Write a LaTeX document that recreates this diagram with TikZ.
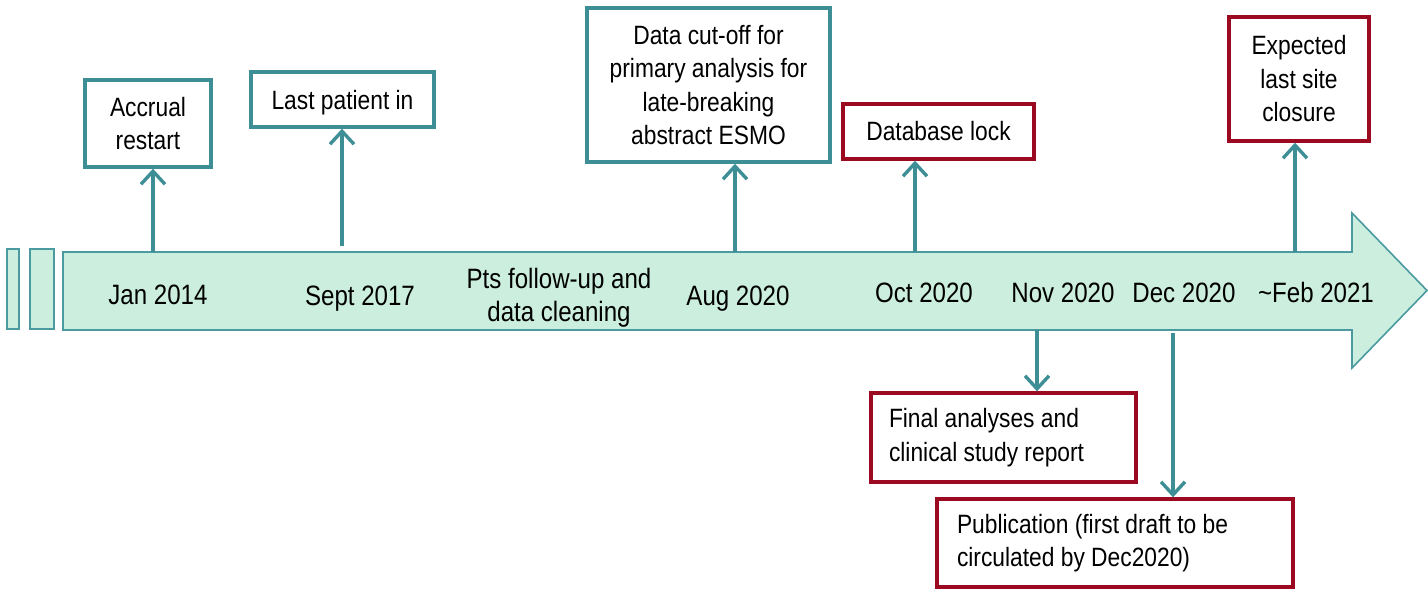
\documentclass[tikz,border=0pt]{standalone}
\usepackage{fontspec}
\setmainfont{Liberation Sans}[FakeStretch=0.86]
\usetikzlibrary{arrows.meta}
\definecolor{mint}{HTML}{CBEEDE}
\definecolor{tealline}{HTML}{4A9AA0}
\definecolor{tealdark}{HTML}{3E8E95}
\definecolor{wine}{HTML}{9C0A22}
\tikzset{
  txt/.style={font=\fontsize{26.5}{33.5}\selectfont, text=black, inner sep=0pt, align=center},
  tltxt/.style={txt, font=\fontsize{28}{33.5}\selectfont},
  tealbox/.style={draw=tealdark, line width=3.4pt, fill=white, txt, inner sep=0pt},
  redbox/.style={draw=wine, line width=3.4pt, fill=white, txt, inner sep=0pt},
  bar/.style={draw=tealline, line width=1.6pt, fill=mint},
  conn/.style={draw=tealdark, line width=3.4pt, -{Straight Barb[length=13pt,width=24pt,line width=3.4pt]}},
}
\begin{document}
\begin{tikzpicture}[x=1pt,y=-1pt]
\useasboundingbox (0,0) rectangle (1428,589);
% small bars
\path[bar] (7,249) rectangle (19,329);
\path[bar] (30,249) rectangle (54,329);
% timeline arrow
\path[bar] (63,252) -- (1352,252) -- (1352,213) -- (1427,290.5) -- (1352,368) -- (1352,330) -- (63,330) -- cycle;
% timeline labels
\node[tltxt, anchor=base] (l1) at (158,304) {Jan 2014};
\node[tltxt, anchor=base] (l2) at (360,305) {Sept 2017};
\node[tltxt] (l3) at (559,298) {Pts follow-up and\\data cleaning};
\node[tltxt, anchor=base] (l4) at (738,305.5) {Aug 2020};
\node[tltxt, anchor=base] (l5) at (924,302) {Oct 2020};
\node[tltxt, anchor=base] (l6) at (1063,302) {Nov 2020};
\node[tltxt, anchor=base] (l7) at (1184,302) {Dec 2020};
\node[tltxt, anchor=base] (l8) at (1316,302) {\symbol{"007E}Feb 2021};
% boxes
\node[tealbox, minimum width=126pt, minimum height=87pt] (b1) at (148,123.5) {Accrual\\restart};
\node[tealbox, minimum width=183pt, minimum height=55pt, text depth=0pt] (b2) at (342.5,99.5) {Last patient in};
\node[tealbox, minimum width=243pt, minimum height=154pt] (b3) at (708.5,85) {Data cut-off for\\primary analysis for\\late-breaking\\abstract ESMO};
\node[redbox, minimum width=191pt, minimum height=55pt] (b4) at (938.5,131.5) {Database lock};
\node[redbox, minimum width=140pt, minimum height=124pt] (b5) at (1299,79) {Expected\\last site\\closure};
\node[redbox, align=flush left, text width=229pt, inner xsep=18pt, minimum height=89pt] (b6) at (1003.5,437.5) {Final analyses and\\clinical study report};
\node[redbox, align=flush left, text width=316pt, inner xsep=20pt, minimum height=88pt] (b7) at (1115,543) {Publication (first draft to be\\circulated by Dec2020)};
% anchor points on the timeline
\coordinate (t1) at (153,252);
\coordinate (t2) at (342,246);
\coordinate (t3) at (735,252);
\coordinate (t4) at (915,252);
\coordinate (t5) at (1295,252);
\coordinate (t6) at (1037,330);
\coordinate (t7) at (1173,333);
% connectors
\draw[conn] (t1) -- (t1 |- b1.south);
\draw[conn] (t2) -- (t2 |- b2.south);
\draw[conn] (t3) -- (t3 |- b3.south);
\draw[conn] (t4) -- (t4 |- b4.south);
\draw[conn] (t5) -- (t5 |- b5.south);
\draw[conn] (t6) -- (t6 |- b6.north);
\draw[conn] (t7) -- (t7 |- b7.north);
\end{tikzpicture}
\end{document}
